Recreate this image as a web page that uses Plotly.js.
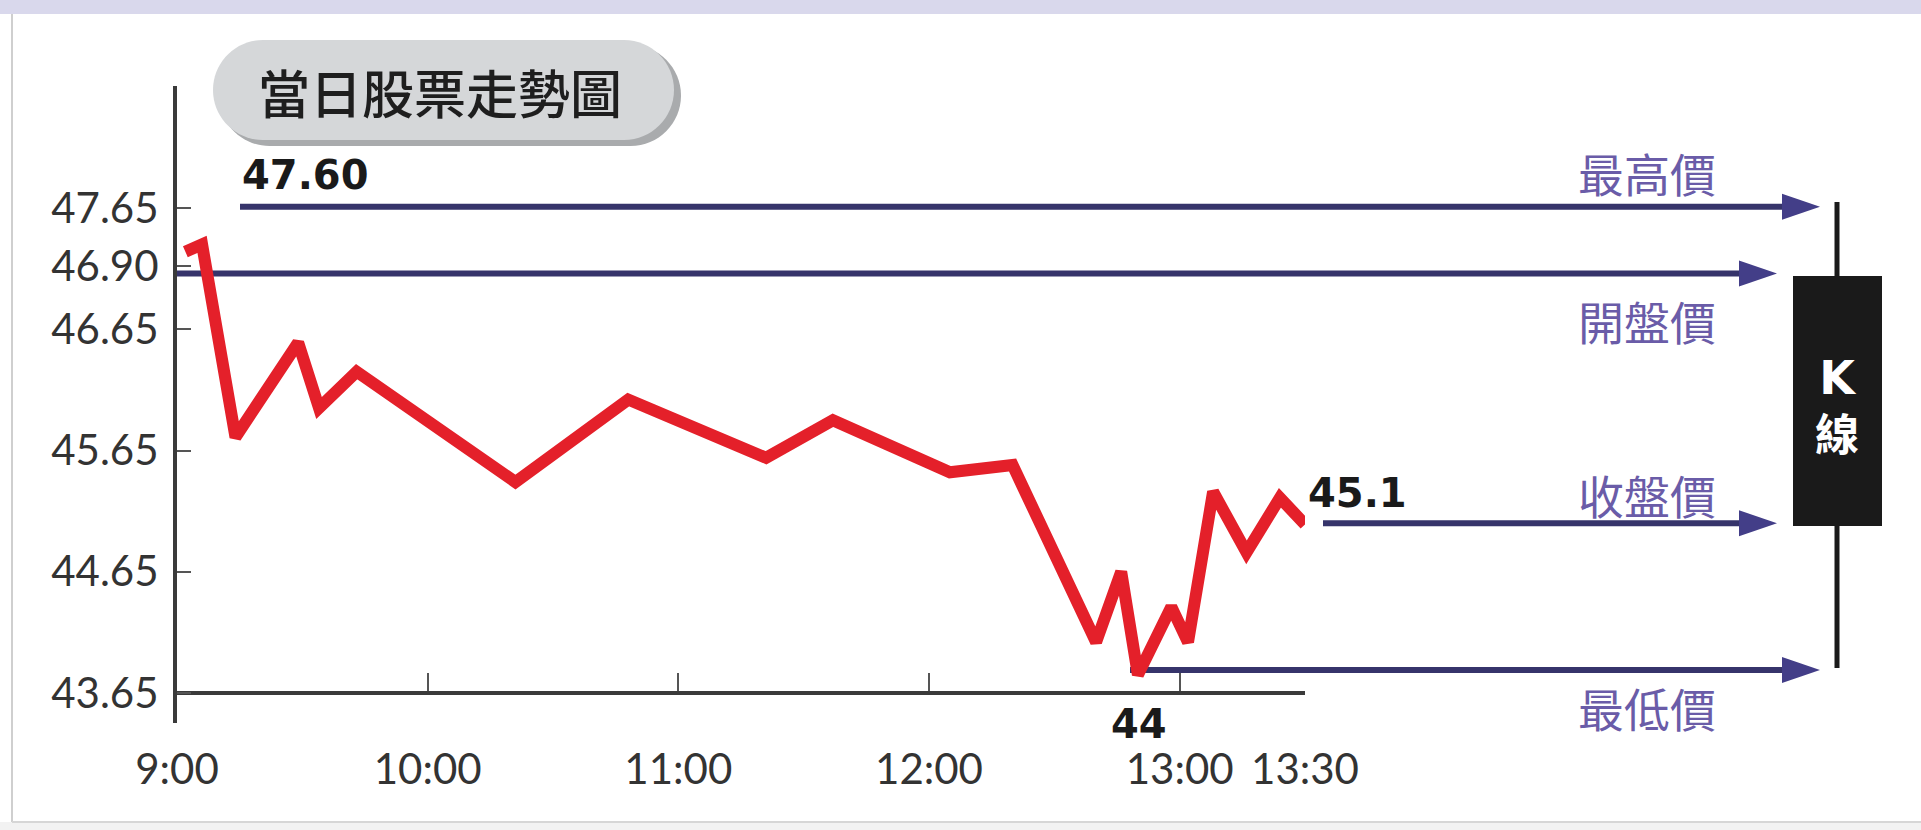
<!DOCTYPE html>
<html><head><meta charset="utf-8">
<script src="https://cdn.plot.ly/plotly-3.0.1.min.js"></script>
<style>html,body{margin:0;padding:0;background:#fff;overflow:hidden}#chart{width:1921px;height:830px}</style>
</head><body><div id="chart"></div>
<script>
// ---- data ----
const times  = ['09:02','09:06','09:14','09:29','09:34','09:43','10:21','10:48','11:21','11:37','12:05','12:20','12:40','12:46','12:50','12:58','13:02','13:08','13:16','13:24','13:30'];
const prices = [47.29,47.35,45.76,46.54,46.00,46.30,45.39,46.07,45.59,45.90,45.47,45.53,44.07,44.65,43.80,44.36,44.07,45.31,44.81,45.26,45.04];
const xTickLabels = ['9:00','10:00','11:00','12:00','13:00','13:30'];
const yTickLabels = ['43.65','44.65','45.65','46.65','46.90','47.65'];
const yTickPos    = [43.65,44.65,45.65,46.65,47.17,47.65];
const levelNames  = ['最高價','開盤價','收盤價','最低價'];
const levelValues = [47.66,47.11,45.05,43.84];
const levelTexts  = ['47.60','','45.1','44'];
const chartTitle  = '當日股票走勢圖';
const candleText  = ['K','線'];

// ---- helpers ----
const toMin = t => { const p = t.split(':').map(Number); return (p[0]-9)*60 + p[1]; };
const L = 177, R = 1305, T = 86, B = 723, W = 1921, H = 830;
const PX = px => (px - L) / (R - L);
const PY = py => (B - py) / (B - T);
const yRange = [43.4026, 48.6562];
const unitPx = (B - T) / (yRange[1] - yRange[0]);

function pillPath(x0, y0, x1, y1) {
  const r = (y1 - y0) / 2, k = 0.5523 * r;
  const p = (x, y) => PX(x).toFixed(5) + ',' + PY(y).toFixed(5);
  return 'M' + p(x0 + r, y0) + ' L' + p(x1 - r, y0) +
    ' C' + p(x1 - r + k, y0) + ' ' + p(x1, y0 + r - k) + ' ' + p(x1, y0 + r) +
    ' C' + p(x1, y0 + r + k) + ' ' + p(x1 - r + k, y1) + ' ' + p(x1 - r, y1) +
    ' L' + p(x0 + r, y1) +
    ' C' + p(x0 + r - k, y1) + ' ' + p(x0, y0 + r + k) + ' ' + p(x0, y0 + r) +
    ' C' + p(x0, y0 + r - k) + ' ' + p(x0 + r - k, y0) + ' ' + p(x0 + r, y0) + ' Z';
}

const lineCol = '#36346b', headCol = '#433e88', purple = '#6a5ca8';
const shapes = [];
const annotations = [];

// frame / page decoration
shapes.push({type:'rect', xref:'paper', yref:'paper', x0:PX(0), x1:PX(W), y0:PY(0), y1:PY(14), fillcolor:'#d9d8ec', line:{width:0}, layer:'below'});
shapes.push({type:'line', xref:'paper', yref:'paper', x0:PX(12), x1:PX(12), y0:PY(14), y1:PY(822), line:{color:'#cfcfcf', width:2}, layer:'below'});
shapes.push({type:'rect', xref:'paper', yref:'paper', x0:PX(0), x1:PX(W), y0:PY(822), y1:PY(H), fillcolor:'#f2f2f2', line:{width:0}, layer:'below'});
shapes.push({type:'line', xref:'paper', yref:'paper', x0:PX(12), x1:PX(W), y0:PY(822), y1:PY(822), line:{color:'#d6d6d6', width:2}, layer:'below'});

// title pill
shapes.push({type:'path', xref:'paper', yref:'paper', path:pillPath(219, 45, 681, 146), fillcolor:'#a9abad', line:{width:0}, layer:'below'});
shapes.push({type:'path', xref:'paper', yref:'paper', path:pillPath(213, 40, 674, 140), fillcolor:'#d5d7d9', line:{width:0}, layer:'below'});
annotations.push({xref:'paper', yref:'paper', x:PX(440), y:PY(91), text:chartTitle, showarrow:false, xanchor:'center', yanchor:'middle',
  font:{family:'Noto Sans CJK TC', size:52, color:'#1e1e1e', weight:500}});

// level lines with arrows
const lineStart = [240, L, 1323, 1130];
const tipX      = [1820, 1777, 1777, 1820];
const headLen = 38, headHalf = 13 / unitPx;
levelValues.forEach((v, i) => {
  shapes.push({type:'line', xref:'paper', yref:'y', x0:PX(lineStart[i]), x1:PX(tipX[i] - headLen + 4), y0:v, y1:v,
    line:{color:lineCol, width:6}, layer:'below'});
  const b = PX(tipX[i] - headLen), t = PX(tipX[i]);
  shapes.push({type:'path', xref:'paper', yref:'y',
    path:'M' + b + ',' + (v + headHalf) + ' L' + t + ',' + v + ' L' + b + ',' + (v - headHalf) + ' Z',
    fillcolor:headCol, line:{width:0}, layer:'below'});
});

// level names (purple)
const nameY = [172, 320, 494, 707];
levelNames.forEach((n, i) => annotations.push({xref:'paper', yref:'paper', x:PX(1718), y:PY(nameY[i]), text:n, showarrow:false,
  xanchor:'right', yanchor:'middle', font:{family:'Noto Sans CJK TC', size:46, color:purple}}));

// bold value labels
const valPos = [[240, 175, 'left'], null, [1306, 493, 'left'], [1139, 724, 'center']];
levelTexts.forEach((s, i) => { if (!s) return; const p = valPos[i];
  annotations.push({xref:'paper', yref:'paper', x:PX(p[0]), y:PY(p[1]), text:'<b>' + s + '</b>', showarrow:false,
    xanchor:p[2], yanchor:'middle', font:{family:'DejaVu Sans', size:40, color:'#1a1a1a'}}); });

// K-line candle
shapes.push({type:'line', xref:'paper', yref:'paper', x0:PX(1837), x1:PX(1837), y0:PY(202), y1:PY(668), line:{color:'#1a1a1a', width:5}});
shapes.push({type:'rect', xref:'paper', yref:'paper', x0:PX(1793), x1:PX(1882), y0:PY(276), y1:PY(526), fillcolor:'#1a1a1a', line:{width:0}});
annotations.push({xref:'paper', yref:'paper', x:PX(1837), y:PY(407),
  text:'<span style="font-family:DejaVu Sans;font-size:46px;font-weight:bold">' + candleText[0] + '</span><br><b>' + candleText[1] + '</b>',
  showarrow:false, xanchor:'center', yanchor:'middle', font:{family:'Noto Sans CJK TC', size:44, color:'#fff'}});

const trace = {x: times.map(toMin), y: prices, type:'scatter', mode:'lines',
  line:{color:'#e4202a', width:12}, hoverinfo:'skip'};

const tickFont = {family:'Lato', size:42, color:'#333', weight:400};
const layout = {
  width:W, height:H, margin:{l:L, r:W - R, t:T, b:H - B, autoexpand:false},
  paper_bgcolor:'#ffffff', plot_bgcolor:'rgba(0,0,0,0)', showlegend:false, hovermode:false,
  xaxis:{range:[0, 270], anchor:'free', position:(B - 693) / (B - T), showline:true, linecolor:'#3a3a3a', linewidth:4,
    showgrid:false, zeroline:false, ticks:'inside', ticklen:18, tickwidth:2, tickcolor:'#555',
    tickvals:xTickLabels.map(toMin), ticktext:xTickLabels, tickfont:tickFont, ticklabelstandoff:39},
  yaxis:{range:yRange, showline:true, linecolor:'#3a3a3a', linewidth:4, showgrid:false, zeroline:false,
    ticks:'inside', ticklen:14, tickwidth:2, tickcolor:'#555',
    tickvals:yTickPos, ticktext:yTickLabels, tickfont:tickFont, ticklabelstandoff:6},
  shapes:shapes, annotations:annotations
};
Plotly.newPlot('chart', [trace], layout, {staticPlot:true, displayModeBar:false});
</script></body></html>
